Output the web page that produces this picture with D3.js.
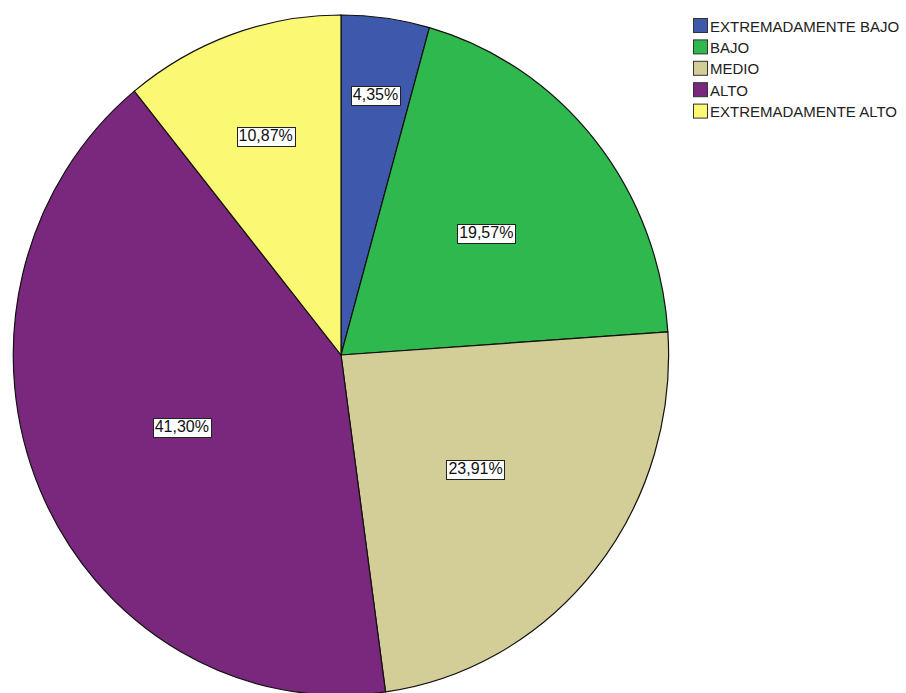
<!DOCTYPE html>
<html>
<head>
<meta charset="utf-8">
<script src="https://cdn.jsdelivr.net/npm/d3@7"></script>
<style>
html,body{margin:0;padding:0;background:#fff;}
svg{display:block;}
text{font-family:"Liberation Sans",Arial,sans-serif;}
</style>
</head>
<body>
<svg id="chart" width="906" height="693"></svg>
<script>
const categories = ["EXTREMADAMENTE BAJO","BAJO","MEDIO","ALTO","EXTREMADAMENTE ALTO"];
const percents = [4.35, 19.57, 23.91, 41.30, 10.87];
const percentLabels = ["4,35%","19,57%","23,91%","41,30%","10,87%"];
const colors = ["#3E58AC","#2EB84E","#D3CE97","#79287D","#FBF873"];

const svg = d3.select("#chart");
const cx = 341, cy = 355, rx = 327.5, ry = 340;

const data = categories.map((c,i)=>({cat:c, value:percents[i], label:percentLabels[i], color:colors[i]}));
const pie = d3.pie().sort(null).value(d=>d.value);
const arcs = pie(data);
const arc = d3.arc().innerRadius(0).outerRadius(1);

const g = svg.append("g").attr("transform", `translate(${cx},${cy}) scale(${rx},${ry})`);
g.selectAll("path").data(arcs).join("path")
  .attr("d", arc)
  .attr("fill", d=>d.data.color)
  .attr("stroke", "#111")
  .attr("stroke-width", 1.2)
  .attr("vector-effect", "non-scaling-stroke");

// labels
const total = d3.sum(percents);
const lg = svg.append("g");
arcs.forEach(a=>{
  const share = a.data.value/total;
  const frac = Math.max(0.53, 0.5 + 0.33*(1 - share/0.25));
  const mid = (a.startAngle + a.endAngle)/2;
  const x = cx + Math.sin(mid)*frac*rx;
  const y = cy - Math.cos(mid)*frac*ry;
  const t = lg.append("text").attr("x", x).attr("y", y)
    .attr("text-anchor","middle").attr("dominant-baseline","central")
    .attr("font-size", 16).attr("fill","#111").text(a.data.label);
  const bb = t.node().getBBox();
  lg.insert("rect", () => t.node())
    .attr("x", Math.round(bb.x-2)+0.5).attr("y", Math.round(bb.y)+0.5)
    .attr("width", Math.round(bb.width+4)).attr("height", Math.round(bb.height+2))
    .attr("fill","#fff").attr("stroke","#222").attr("stroke-width",1);
});

// legend
const leg = svg.append("g").attr("transform","translate(693,18)");
const rowH = 21.4;
const items = leg.selectAll("g").data(data).join("g")
  .attr("transform",(d,i)=>`translate(0,${i*rowH})`);
items.append("rect").attr("x",0.5).attr("y",0.5).attr("width",14).attr("height",14)
  .attr("fill",d=>d.color).attr("stroke","#333").attr("stroke-width",1);
items.append("text").attr("x",17).attr("y",8).attr("dominant-baseline","central")
  .attr("font-size",15).attr("fill","#222").text(d=>d.cat);
</script>
</body>
</html>
